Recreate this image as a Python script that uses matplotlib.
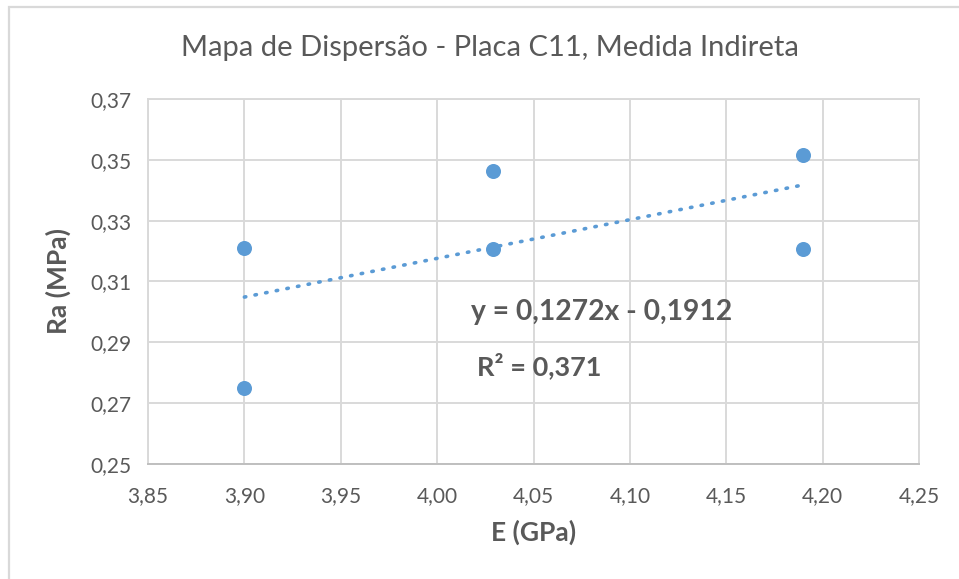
import matplotlib
matplotlib.use('Agg')
import numpy as np
import matplotlib.pyplot as plt
from matplotlib.patches import Rectangle

# modulo de elasticidade (GPa) e rugosidade Ra (MPa)
e_gpa = [3.90, 3.90, 4.029, 4.029, 4.19, 4.19]
ra_mpa = [0.321, 0.275, 0.3462, 0.3208, 0.3515, 0.3208]

# linha de tendencia linear (Excel)
slope = 0.1272
intercept = -0.1912
r2 = 0.371

x_ticks = [3.85, 3.90, 3.95, 4.00, 4.05, 4.10, 4.15, 4.20, 4.25]
y_ticks = [0.25, 0.27, 0.29, 0.31, 0.33, 0.35, 0.37]

blue = '#5B9BD5'
grid_gray = '#D9D9D9'
text_gray = '#595959'

plt.rcParams['font.family'] = ['Lato', 'DejaVu Sans']

W, H = 959, 579
fig = plt.figure(figsize=(W / 100, H / 100), dpi=100)
fig.patch.set_facecolor('white')

# borda externa do grafico
fig.patches.append(Rectangle((9 / W, -0.1), 1.2, 1 - 7 / H + 0.1, transform=fig.transFigure,
                             fill=False, edgecolor=grid_gray, linewidth=1.6))

left, right, top, bottom = 148, 919, 99, 464
ax = fig.add_axes([left / W, 1 - bottom / H, (right - left) / W, (bottom - top) / H])

ax.set_xlim(x_ticks[0], x_ticks[-1])
ax.set_ylim(y_ticks[0], y_ticks[-1])
ax.set_xticks(x_ticks)
ax.set_yticks(y_ticks)
ax.set_xticklabels([f'{v:.2f}'.replace('.', ',') for v in x_ticks])
ax.set_yticklabels([f'{v:.2f}'.replace('.', ',') for v in y_ticks])
ax.tick_params(axis='x', length=0, labelsize=15, labelcolor=text_gray, pad=16)
ax.tick_params(axis='y', length=0, labelsize=15, labelcolor=text_gray, pad=12)
ax.grid(True, color=grid_gray, linewidth=1.4)
ax.set_axisbelow(True)
for side in ['left', 'right', 'top']:
    ax.spines[side].set_color(grid_gray)
    ax.spines[side].set_linewidth(1.4)
ax.spines['bottom'].set_color('#BFBFBF')
ax.spines['bottom'].set_linewidth(1.4)

ax.scatter(e_gpa, ra_mpa, s=15 ** 2 * 0.52, color=blue, zorder=3, linewidths=0)

xt = np.array([min(e_gpa), max(e_gpa)])
ax.plot(xt, slope * xt + intercept, color=blue, linewidth=2.6,
        linestyle=(0, (0.4, 2.6)), dash_capstyle='round', zorder=2)

eq = f'y = {slope:.4f}x - {abs(intercept):.4f}'.replace('.', ',')
ax.text(0.419, 0.416, eq, transform=ax.transAxes, fontsize=20.3, fontweight='bold',
        color=text_gray, ha='left', va='center')
ax.text(0.427, 0.268, f'R² = {r2:.3f}'.replace('.', ','), transform=ax.transAxes,
        fontsize=19.5, fontweight='bold', color=text_gray, ha='left', va='center')

ax.set_xlabel('E (GPa)', fontsize=19, fontweight='bold', color=text_gray, labelpad=10)
ax.set_ylabel('Ra (MPa)', fontsize=19, fontweight='bold', color=text_gray, labelpad=14)

fig.text(490 / W, 1 - 48 / H, 'Mapa de Dispersão - Placa C11, Medida Indireta',
         fontsize=21, color=text_gray, ha='center', va='center')

fig.savefig('out.png', dpi=100, facecolor='white')
